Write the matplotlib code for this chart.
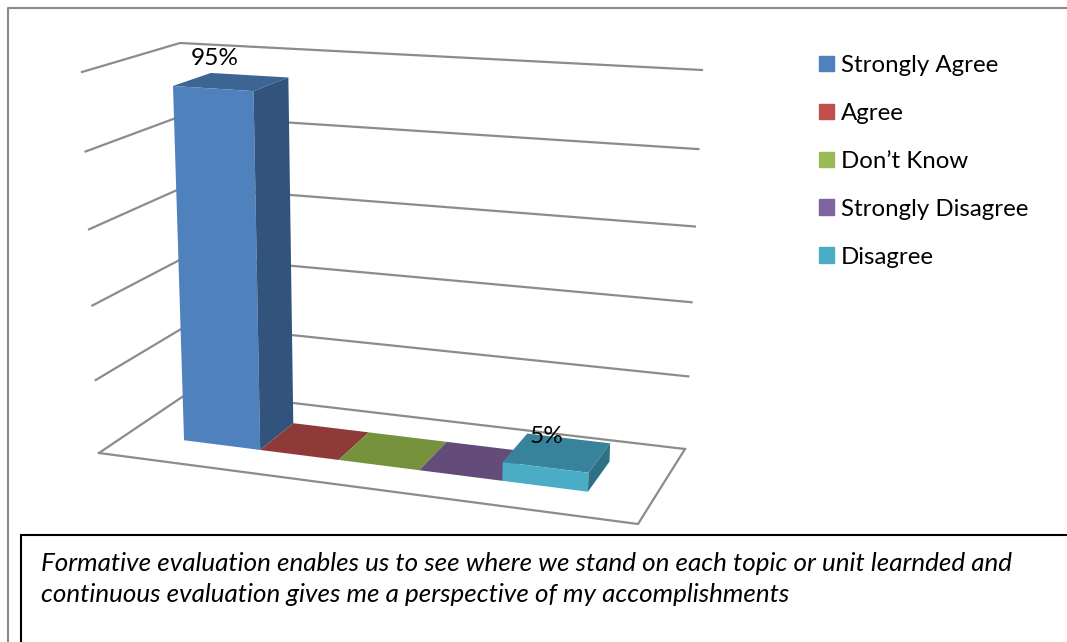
import matplotlib.pyplot as plt
from matplotlib.patches import Polygon, Patch, Rectangle

plt.rcParams['font.family'] = ['Lato', 'DejaVu Sans']

categories = ['Strongly Agree', 'Agree', 'Don\u2019t Know', 'Strongly Disagree', 'Disagree']
values = [95, 0, 0, 0, 5]
labels = ['95%', '', '', '', '5%']
grid_levels = [0, 20, 40, 60, 80, 100]

front_colors = ['#4F81BD', '#C0504D', '#9BBB59', '#8064A2', '#4BACC6']
top_colors = ['#3C6594', '#8E3A38', '#76923C', '#634B7A', '#37839B']
side_colors = ['#32547C', '#7A2F2D', '#62792F', '#4F3C63', '#2F7184']

caption = ('Formative evaluation enables us to see where we stand on each topic or unit learnded and\n'
           'continuous evaluation gives me a perspective of my accomplishments')

# corners of the 3d box, in pixels of the picture
floor_fl, floor_fr, floor_br, floor_bl = (99, 453), (638, 524), (685, 449), (191, 391)
top_fl, top_fr, top_br, top_bl = (82, 72), (655, 109), (702, 70), (180, 43)

bar_u0 = 0.1154   # where first bar starts along the front
bar_w = 0.1541
bar_d0, bar_d1 = 0.32, 0.73


def lerp(a, b, t):
    return (a[0] + (b[0] - a[0]) * t, a[1] + (b[1] - a[1]) * t)


def project(u, d, v):
    # u along the front, d into the depth, v is the value 0-100
    u = u / (u + 1.1 * (1 - u))  # bars get a bit wider to the right
    floor = lerp(lerp(floor_fl, floor_fr, u), lerp(floor_bl, floor_br, u), d)
    top = lerp(lerp(top_fl, top_fr, u), lerp(top_bl, top_br, u), d)
    n = v / 100
    t = n / (n + 1.055 * (1 - n))  # slight perspective, lines get closer near floor
    return lerp(floor, top, t)


fig = plt.figure(figsize=(10.67, 6.42), dpi=100)
ax = fig.add_axes([0, 0, 1, 1])
ax.set_xlim(0, 1067)
ax.set_ylim(642, 0)
ax.axis('off')

# outer frame
ax.plot([8, 8, 1067], [642, 8, 8], color='#8A8A8A', lw=1.5, zorder=1)

# walls and floor
gray = '#8C8C8C'
for lev in grid_levels:
    pts = [project(0, 0, lev), project(0, 1, lev), project(1, 1, lev)]
    ax.plot([p[0] for p in pts], [p[1] for p in pts], color=gray, lw=1.6, zorder=2)
pts = [project(0, 0, 0), project(1, 0, 0), project(1, 1, 0)]
ax.plot([p[0] for p in pts], [p[1] for p in pts], color=gray, lw=1.6, zorder=2)

# bars, left to right so the nearer sides stay on top
for i, val in enumerate(values):
    u0 = bar_u0 + i * bar_w
    u1 = u0 + bar_w
    z = 3 + i
    top = [project(u0, bar_d0, val), project(u1, bar_d0, val), project(u1, bar_d1, val), project(u0, bar_d1, val)]
    ax.add_patch(Polygon(top, color=top_colors[i], lw=0, zorder=z))
    if val > 0:
        front = [project(u0, bar_d0, 0), project(u1, bar_d0, 0), project(u1, bar_d0, val), project(u0, bar_d0, val)]
        side = [project(u1, bar_d0, 0), project(u1, bar_d1, 0), project(u1, bar_d1, val), project(u1, bar_d0, val)]
        ax.add_patch(Polygon(front, color=front_colors[i], lw=0, zorder=z))
        ax.add_patch(Polygon(side, color=side_colors[i], lw=0, zorder=z))
    if labels[i]:
        x, y = project(u0 + bar_w / 2, bar_d0, val)
        ax.text(x + 1.5, y - 30.5, labels[i], fontsize=17.6, color='black', ha='center', va='center', zorder=10)

# legend
handles = [Patch(color=c, label=n) for c, n in zip(front_colors, categories)]
ax.legend(handles=handles, loc='upper left', bbox_to_anchor=(819 / 1067, 1 - 55 / 642), frameon=False,
          fontsize=17.3, labelspacing=1.12, handlelength=0.62, handleheight=0.62, handletextpad=0.28,
          borderpad=0, borderaxespad=0)

# caption box
ax.add_patch(Rectangle((21, 535), 1100, 200, facecolor='white', edgecolor='black', lw=1.5, zorder=11))
ax.text(41, 579, caption, fontsize=18.7, style='italic', color='black', va='center', ha='left',
        linespacing=1.4, zorder=12)

fig.savefig('out.png', dpi=100)
